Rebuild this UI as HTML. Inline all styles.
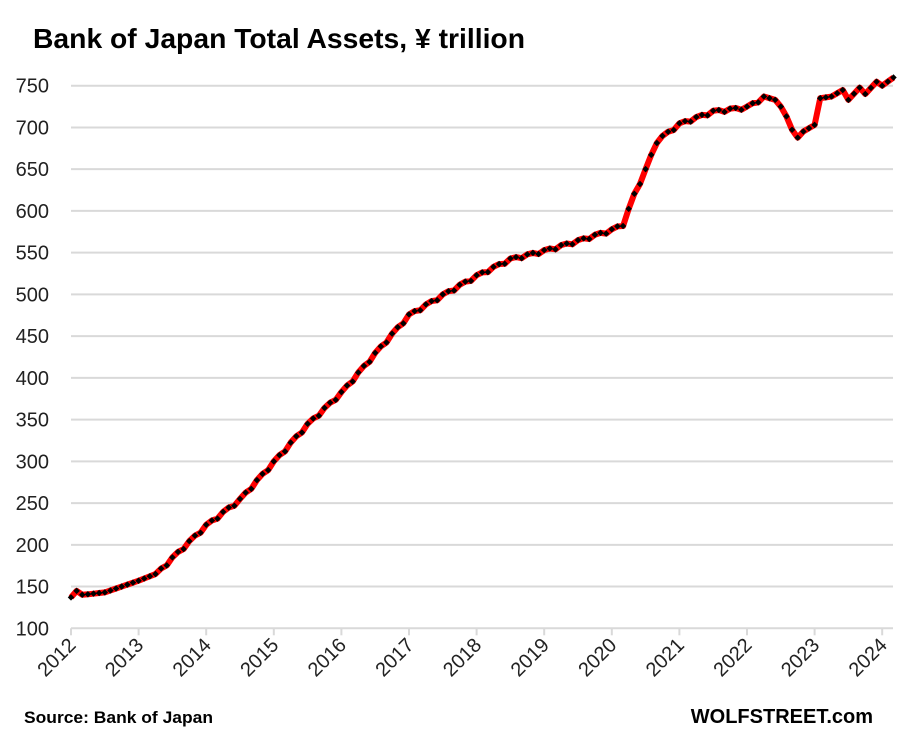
<!DOCTYPE html>
<html><head><meta charset="utf-8"><style>
body{margin:0;background:#fff;}
svg{display:block;font-family:"Liberation Sans",Calibri,sans-serif;}
</style></head><body>
<svg id="c" width="906" height="737" xmlns="http://www.w3.org/2000/svg">
<text x="33" y="48" font-size="28" font-weight="bold" fill="#000" textLength="492" lengthAdjust="spacingAndGlyphs">Bank of Japan Total Assets, ¥ trillion</text>
<g id="grid"></g>
<g id="ser"></g>
<text x="24" y="723" font-size="17" font-weight="bold" textLength="189" lengthAdjust="spacingAndGlyphs">Source: Bank of Japan</text>
<text x="873" y="723" font-size="20" font-weight="bold" text-anchor="end">WOLFSTREET.com</text>
</svg>
<script>
const NS="http://www.w3.org/2000/svg";
const g=document.getElementById('grid'),s=document.getElementById('ser');
const x0=71,yr=67.6,yTop=85.7,yBot=628.3;
const Y=v=>yBot-(v-100)/650*(yBot-yTop);
const X=t=>x0+(t-2012)*yr;
function el(n,a,p,txt){const e=document.createElementNS(NS,n);for(const k in a)e.setAttribute(k,a[k]);if(txt!==undefined)e.textContent=txt;p.appendChild(e);return e;}
for(let v=100;v<=750;v+=50){const y=Y(v);
 if(v>100)el('line',{x1:71,x2:893,y1:y,y2:y,stroke:'#d9d9d9','stroke-width':2},g);
 el('text',{x:49,y:y+7,'font-size':20,'text-anchor':'end',fill:'#222'},g,v);}
el('line',{x1:71,x2:893,y1:yBot,y2:yBot,stroke:'#d9d9d9','stroke-width':2},g);
for(let i=0;i<=12;i++){const x=X(2012+i);
 el('line',{x1:x,x2:x,y1:yBot,y2:yBot+7,stroke:'#d9d9d9','stroke-width':2},g);
 el('text',{x:x+6,y:yBot+18,'font-size':20,'text-anchor':'end',fill:'#222',transform:`rotate(-45 ${x+6} ${yBot+18})`},g,2012+i);}
const K=[[2012,137],[2012.08,145],[2012.17,140],[2012.5,143],[2012.75,150],[2013,157],[2013.25,165],[2013.5,185],[2014,224],[2014.5,255],[2015,300],[2015.5,345],[2016,383],[2016.5,430],[2017,476],[2017.5,500],[2018,523],[2018.5,543],[2019,553],[2019.5,565],[2020,578],[2020.17,585],[2020.33,620],[2020.5,650],[2020.67,685],[2021,705],[2021.5,720],[2022,725],[2022.25,737],[2022.42,733],[2022.5,725],[2022.62,708],[2022.72,685],[2022.83,695],[2023,703],[2023.08,735],[2023.25,737],[2023.42,745],[2023.5,733],[2023.67,748],[2023.75,740],[2023.92,755],[2024,750],[2024.17,760]];
function f(t){for(let i=0;i<K.length-1;i++){if(t<=K[i+1][0]){const a=K[i],b=K[i+1];return a[1]+(b[1]-a[1])*(t-a[0])/(b[0]-a[0]);}}return K[K.length-1][1];}
const pts=[];for(let m=0;m<=146;m++){const t=2012+m/12;let v=f(t);if(t>2013.3&&t<2022.3&&m%3==2)v-=3;pts.push([X(t),Y(v)]);}
el('polyline',{points:pts.map(p=>p.join(',')).join(' '),fill:'none',stroke:'#ff0000','stroke-width':6,'stroke-linejoin':'round'},s);
pts.forEach(p=>el('rect',{x:p[0]-2.3,y:p[1]-2.3,width:4.6,height:4.6,fill:'#000',transform:`rotate(45 ${p[0]} ${p[1]})`},s));
</script>
</body></html>
